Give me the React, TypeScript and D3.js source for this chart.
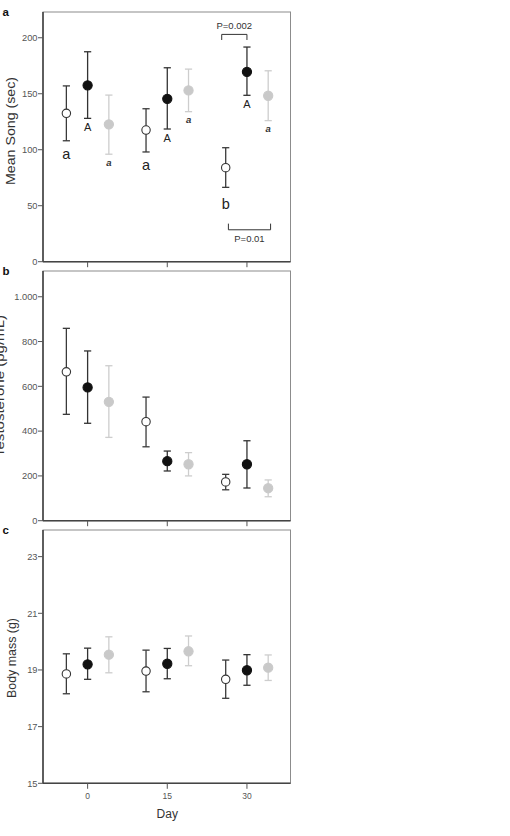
import React from 'react';
import * as d3 from 'd3';

// days sampled and horizontal offset (in days) of each treatment group
const days = [0, 15, 30];
const groupOffsets = [-4, 0, 4];

// (a) mean song, sec
const songOpenMean = [132.5, 117.6, 84];
const songOpenLo = [108, 98, 66.4];
const songOpenHi = [157, 136.6, 101.8];
const songBlackMean = [157.5, 145.5, 169.6];
const songBlackLo = [128, 118.5, 148.6];
const songBlackHi = [187.5, 173.2, 191.7];
const songGrayMean = [122.7, 153, 148.2];
const songGrayLo = [96, 134, 126];
const songGrayHi = [148.8, 172, 170.5];

// letters under the song points
const songOpenLetters = ['a', 'a', 'b'];
const songBlackLetters = ['A', 'A', 'A'];
const songGrayLetters = ['a', 'a', 'a'];

// (b) testosterone, pg/mL
const testoOpenMean = [665, 442, 173];
const testoOpenLo = [475, 330, 138];
const testoOpenHi = [859, 552, 207];
const testoBlackMean = [595, 266, 252];
const testoBlackLo = [435, 222, 146];
const testoBlackHi = [758, 311, 357];
const testoGrayMean = [531, 252, 145];
const testoGrayLo = [372, 200, 107];
const testoGrayHi = [692, 304, 182];

// (c) body mass, g
const massOpenMean = [18.86, 18.96, 18.67];
const massOpenLo = [18.16, 18.23, 18.0];
const massOpenHi = [19.57, 19.7, 19.35];
const massBlackMean = [19.2, 19.22, 18.99];
const massBlackLo = [18.67, 18.69, 18.46];
const massBlackHi = [19.77, 19.76, 19.54];
const massGrayMean = [19.54, 19.66, 19.08];
const massGrayLo = [18.9, 19.15, 18.63];
const massGrayHi = [20.17, 20.2, 19.53];

const songTicks = [0, 50, 100, 150, 200];
const testoTicks = [0, 200, 400, 600, 800, 1000];
const massTicks = [15, 17, 19, 21, 23];

const FONT = "'Liberation Sans', Arial, sans-serif";
const left = 43;
const right = 290.5;

const x = d3.scaleLinear().domain([-8.4, 38.2]).range([left, right]);

const styles = [
  { fill: '#fff', stroke: '#333', bar: '#3a3a3a', r: 4.2 }, // open
  { fill: '#111', stroke: '#111', bar: '#333', r: 4.6 }, // black
  { fill: '#c9c9c9', stroke: '#c9c9c9', bar: '#cdcdcd', r: 4.6 }, // gray
];

type Series = { mean: number[]; lo: number[]; hi: number[] };

function Points({ series, y }: { series: Series[]; y: d3.ScaleLinear<number, number> }) {
  return (
    <g>
      {series.map((s, gi) =>
        days.map((d, i) => {
          const cx = x(d + groupOffsets[gi]);
          const st = styles[gi];
          const cap = 3.6;
          return (
            <g key={`${gi}-${i}`}>
              <line x1={cx} x2={cx} y1={y(s.lo[i])} y2={y(s.hi[i])} stroke={st.bar} strokeWidth={1.3} />
              <line x1={cx - cap} x2={cx + cap} y1={y(s.lo[i])} y2={y(s.lo[i])} stroke={st.bar} strokeWidth={1.3} />
              <line x1={cx - cap} x2={cx + cap} y1={y(s.hi[i])} y2={y(s.hi[i])} stroke={st.bar} strokeWidth={1.3} />
              <circle cx={cx} cy={y(s.mean[i])} r={st.r} fill={st.fill} stroke={st.stroke} strokeWidth={1.1} />
            </g>
          );
        })
      )}
    </g>
  );
}

function Panel({
  top, bottom, domain, ticks, fmt, letter, ylabel, ylabelX, ylabelY, ylabelLen, series, children,
}: any) {
  const y = d3.scaleLinear().domain(domain).range([bottom, top]);
  return (
    <g>
      <rect x={left} y={top} width={right - left} height={bottom - top} fill="#fff" stroke="#8c8c8c" strokeWidth={1} />
      <line x1={left} x2={left} y1={top} y2={bottom} stroke="#444" strokeWidth={1.6} />
      <line x1={left} x2={right} y1={bottom} y2={bottom} stroke="#444" strokeWidth={1.6} />
      {ticks.map((t: number) => (
        <g key={t}>
          <line x1={left - 5} x2={left} y1={y(t)} y2={y(t)} stroke="#555" strokeWidth={1} />
          <text x={left - 5.5} y={y(t) + 3.2} textAnchor="end" fontSize={9.3} fill="#555" fontFamily={FONT}>
            {fmt(t)}
          </text>
        </g>
      ))}
      {days.map((d) => (
        <line key={d} x1={x(d)} x2={x(d)} y1={bottom} y2={bottom + 5.5} stroke="#555" strokeWidth={1} />
      ))}
      <text x={2.5} y={top + 4} fontSize={11.5} fontWeight="bold" fill="#111" fontFamily={FONT}>
        {letter}
      </text>
      <text
        transform={`translate(${ylabelX},${ylabelY}) rotate(-90)`}
        textAnchor="middle"
        fontSize={12.5}
        fill="#333"
        fontFamily={FONT}
        textLength={ylabelLen}
        lengthAdjust="spacingAndGlyphs"
      >
        {ylabel}
      </text>
      <Points series={series} y={y} />
      {children && children(y)}
    </g>
  );
}

export default function App() {
  const songSeries: Series[] = [
    { mean: songOpenMean, lo: songOpenLo, hi: songOpenHi },
    { mean: songBlackMean, lo: songBlackLo, hi: songBlackHi },
    { mean: songGrayMean, lo: songGrayLo, hi: songGrayHi },
  ];
  const testoSeries: Series[] = [
    { mean: testoOpenMean, lo: testoOpenLo, hi: testoOpenHi },
    { mean: testoBlackMean, lo: testoBlackLo, hi: testoBlackHi },
    { mean: testoGrayMean, lo: testoGrayLo, hi: testoGrayHi },
  ];
  const massSeries: Series[] = [
    { mean: massOpenMean, lo: massOpenLo, hi: massOpenHi },
    { mean: massBlackMean, lo: massBlackLo, hi: massBlackHi },
    { mean: massGrayMean, lo: massGrayLo, hi: massGrayHi },
  ];
  const thousands = (v: number) => (v >= 1000 ? d3.format(',')(v).replace(',', '.') : String(v));

  const songAnnotations = (y: d3.ScaleLinear<number, number>) => (
    <g fontFamily={FONT}>
      {days.map((d, i) => (
        <g key={d}>
          <text x={x(d + groupOffsets[0])} y={y(songOpenLo[i]) + (songOpenLetters[i] === 'b' ? 22 : 18)}
            textAnchor="middle" fontSize={14.5} fill="#222">{songOpenLetters[i]}</text>
          <text x={x(d + groupOffsets[1])} y={y(songBlackLo[i]) + 12.5}
            textAnchor="middle" fontSize={11} fill="#222">{songBlackLetters[i]}</text>
          <text x={x(d + groupOffsets[2])} y={y(songGrayLo[i]) + 11.5}
            textAnchor="middle" fontSize={9.5} fontWeight="bold" fontStyle="italic" fill="#333">{songGrayLetters[i]}</text>
        </g>
      ))}
      {/* P=0.002 between open and black at day 30 */}
      <path
        d={`M${x(30 + groupOffsets[0]) - 4},${y(198)} V${y(203)} H${x(30)} V${y(198)}`}
        fill="none" stroke="#333" strokeWidth={1}
      />
      <text x={(x(30 + groupOffsets[0]) - 4 + x(30)) / 2} y={y(203) - 5} textAnchor="middle" fontSize={9.5} fill="#333">P=0.002</text>
      {/* P=0.01 between open and gray at day 30 */}
      <path
        d={`M${x(30 + groupOffsets[0]) + 2.7},${y(34)} V${y(28.5)} H${x(30 + groupOffsets[2]) + 2.4} V${y(34)}`}
        fill="none" stroke="#333" strokeWidth={1}
      />
      <text x={(x(30 + groupOffsets[0]) + x(30 + groupOffsets[2])) / 2 + 2.5} y={y(28.5) + 12.5} textAnchor="middle" fontSize={9.5} fill="#333">P=0.01</text>
    </g>
  );

  return (
    <svg width={510} height={836} style={{ position: 'absolute', left: 0, top: 0, background: '#fff' }}>
      <Panel top={12} bottom={261.7} domain={[0, 223]} ticks={songTicks} fmt={String} letter="a"
        ylabel="Mean Song (sec)" ylabelX={14.5} ylabelY={131} ylabelLen={108} series={songSeries}>
        {songAnnotations}
      </Panel>
      <Panel top={271} bottom={520.7} domain={[0, 1115]} ticks={testoTicks} fmt={thousands} letter="b"
        ylabel="Testosterone (pg/mL)" ylabelX={4} ylabelY={386} ylabelLen={142} series={testoSeries} />
      <Panel top={530} bottom={783.3} domain={[15, 23.94]} ticks={massTicks} fmt={String} letter="c"
        ylabel="Body mass (g)" ylabelX={16} ylabelY={658} ylabelLen={80} series={massSeries} />
      {days.map((d) => (
        <text key={d} x={x(d)} y={799} textAnchor="middle" fontSize={8.5} fill="#555" fontFamily={FONT}>{d}</text>
      ))}
      <text x={x(15)} y={818} textAnchor="middle" fontSize={12} fill="#333" fontFamily={FONT}>Day</text>
    </svg>
  );
}
